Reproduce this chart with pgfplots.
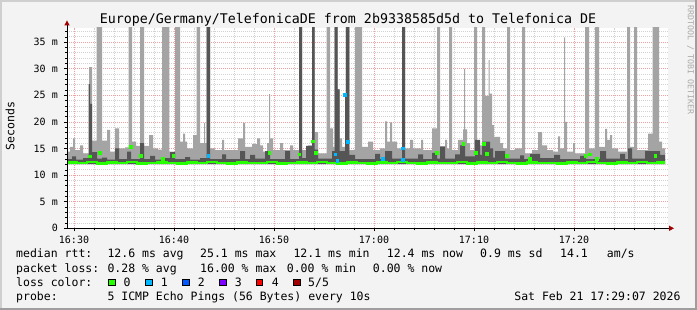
\documentclass[border=0pt]{standalone}
\usepackage{pgfplots}
\pgfplotsset{compat=1.18}
\usepackage{fontspec}
\setmainfont{DejaVu Sans Mono}
\definecolor{bgc}{HTML}{F3F3F3}
\definecolor{shadea}{HTML}{CFCFCF}
\definecolor{shadeb}{HTML}{9E9E9E}
\definecolor{smokeL}{HTML}{A4A4A4}
\definecolor{smokeD}{HTML}{555555}
\definecolor{lc0}{HTML}{26FF00}
\definecolor{lc1}{HTML}{00B8FF}
\definecolor{lc2}{HTML}{0059FF}
\definecolor{lc3}{HTML}{7E00FF}
\definecolor{lc4}{HTML}{FF0000}
\definecolor{lc5}{HTML}{A00000}
\definecolor{mgrid}{HTML}{F0A0A0}
\definecolor{ngrid}{HTML}{D2D2D2}
\definecolor{arrowc}{HTML}{A00000}
\definecolor{wm}{HTML}{AAAAAA}
\newcommand{\lgf}{\fontsize{11.5bp}{13bp}\selectfont}
\begin{document}
\begin{tikzpicture}
\fill[bgc] (0bp,0bp) rectangle (697bp,310bp);
\fill[shadea] (0bp,0bp) rectangle (2bp,310bp);
\fill[shadea] (0bp,308bp) rectangle (697bp,310bp);
\fill[shadeb] (695bp,0bp) rectangle (697bp,310bp);
\fill[shadeb] (0bp,0bp) rectangle (697bp,2bp);
\begin{axis}[
  at={(67bp,81.7bp)}, anchor=south west, scale only axis,
  width=601bp, height=200.3bp,
  xmin=-0.7, xmax=59.4, ymin=0, ymax=37.65,
  axis background/.style={fill=white},
  axis line style={draw=none},
  xtick={0,10,20,30,40,50},
  xticklabels={16:30,16:40,16:50,17:00,17:10,17:20},
  ytick={0,5,10,15,20,25,30,35},
  yticklabels={0,5 m,10 m,15 m,20 m,25 m,30 m,35 m},
  minor xtick={2,4,6,8,12,14,16,18,22,24,26,28,32,34,36,38,42,44,46,48,52,54,56,58},
  minor ytick={1,2,3,4,6,7,8,9,11,12,13,14,16,17,18,19,21,22,23,24,26,27,28,29,31,32,33,34,36,37},
  tick pos=left, tick align=outside,
  major tick length=3bp, minor tick length=2bp,
  tick style={black, line width=0.5bp},
  grid=both,
  major grid style={draw=mgrid, dash pattern=on 1bp off 1bp, line width=0.7bp},
  minor grid style={draw=ngrid, dash pattern=on 1bp off 1bp, line width=0.7bp},
  tick label style={font=\fontsize{10bp}{12bp}\selectfont},
  xticklabel style={anchor=base, inner sep=0pt, yshift=-12.4bp},
  yticklabel style={anchor=east, inner sep=0pt, xshift=-6bp},
]
% outer smoke (light)
\addplot[const plot, fill=smokeL, draw=none] table {
x y
-0.70 12.0
-0.70 14.4
-0.40 15.3
-0.10 16.9
0.10 14.7
0.60 15.6
0.90 14.1
1.50 30.3
1.80 16.5
2.27 40
2.80 16.5
3.30 18.5
3.60 14.4
4.10 18.8
4.50 15.0
5.10 15.2
5.47 40
5.80 16.3
6.20 15.5
6.60 40
7.00 15.5
7.50 17.5
7.90 15.0
8.40 14.8
8.80 40
9.53 14.4
10.10 40
10.60 16.3
10.90 17.8
11.10 16.3
11.30 15.0
11.90 17.5
12.27 40
12.60 16.0
13.00 19.8
13.10 16.0
13.27 40
13.60 15.0
14.10 14.7
14.80 16.6
15.00 14.7
16.40 16.9
16.90 19.8
17.10 15.3
17.80 15.8
18.30 16.9
18.60 15.6
18.90 14.4
19.30 16.0
19.50 25.2
19.60 16.9
19.90 14.7
20.60 16.0
20.90 14.7
21.60 15.6
21.90 14.7
22.50 40
22.80 14.7
23.40 15.6
23.80 40
24.07 18.1
24.40 14.1
25.27 40
25.60 18.8
25.90 15.3
26.07 40
26.35 26.1
26.55 16.9
26.80 15.3
27.15 40
27.53 14.7
28.10 40
28.80 15.3
29.40 16.3
29.90 14.7
30.60 15.0
31.10 20.1
31.30 16.3
31.60 19.9
31.80 16.3
32.30 15.0
32.80 40
33.10 15.0
33.60 16.6
33.90 15.0
34.70 16.6
34.90 14.7
35.80 18.8
36.30 40
36.60 15.0
37.10 16.6
37.30 15.0
37.50 40
37.80 14.7
38.40 16.6
38.90 18.6
39.00 30.0
39.10 18.6
39.30 16.0
39.60 14.7
40.00 40
40.30 15.6
40.80 40
41.10 24.9
41.47 31.6
41.57 25.3
41.80 19.4
42.00 17.2
42.60 16.0
42.90 15.0
43.30 40
43.60 14.7
44.10 15.0
44.80 40
45.10 14.1
45.80 14.7
46.40 18.1
46.80 15.6
47.30 14.7
47.90 14.4
48.40 17.3
48.60 15.0
49.00 35.9
49.10 20.0
49.30 14.4
49.90 16.0
50.10 14.1
51.10 40
51.50 15.0
52.10 40
52.50 15.3
53.10 18.7
53.30 16.6
53.60 17.5
53.80 15.0
54.40 14.4
55.30 40
55.60 15.3
56.00 40
56.30 14.7
57.40 17.8
57.85 40
58.50 16.3
58.80 15.0
59.10 12.0
};
% inner smoke (dark)
\addplot[const plot, fill=smokeD, draw=none] table {
x y
-0.70 12.1
-0.70 13.0
-0.20 13.5
0.20 12.9
0.90 13.2
1.47 27.1
1.60 23.4
1.80 14.3
2.30 13.1
2.80 13.3
3.30 12.9
4.10 15.0
4.50 13.0
5.30 14.4
5.70 13.0
6.60 16.0
7.00 13.0
7.60 13.6
8.10 12.9
9.10 13.2
9.60 14.3
10.10 13.0
11.10 13.4
11.60 12.9
12.60 13.2
13.27 40
13.60 13.0
14.80 13.9
15.20 13.0
16.60 14.5
17.10 13.0
17.60 13.8
18.10 13.1
19.10 14.5
19.60 13.0
21.10 14.5
21.60 13.0
22.50 40
22.80 13.2
23.20 15.5
23.80 40
24.07 14.8
24.40 13.1
25.80 14.5
26.07 40
26.35 26.1
26.55 14.5
27.10 25.0
27.20 40
27.53 13.8
28.10 13.0
30.10 14.0
30.60 13.0
31.10 14.5
31.80 13.1
32.80 40
33.10 13.1
34.40 13.9
34.90 13.0
35.80 14.2
36.30 13.1
36.60 15.4
37.10 13.1
38.10 13.9
38.60 15.6
39.10 13.5
40.10 16.6
40.60 13.8
40.80 16.3
41.60 15.0
41.90 13.3
42.10 14.5
43.10 13.1
44.60 13.7
45.00 13.0
45.60 14.0
46.60 13.2
48.00 13.8
48.60 13.0
50.60 13.6
51.20 13.0
52.60 14.5
53.20 13.1
54.60 14.0
55.10 13.0
55.40 15.0
55.80 13.1
57.10 14.5
58.60 13.8
59.10 12.1
};
% median line
\addplot[const plot, draw=lc0, line width=2.4bp] table {
x y
-0.7 12.4
0.3 12.3
1.3 12.5
2.3 12.2
3.3 12.4
4.3 12.3
5.3 12.5
6.3 12.2
7.3 12.3
8.3 12.4
9.3 12.3
10.3 12.2
11.3 12.4
12.3 12.3
13.3 12.5
14.3 12.3
15.3 12.2
16.3 12.4
17.3 12.3
18.3 12.3
19.3 12.5
20.3 12.2
21.3 12.3
22.3 12.4
23.3 12.3
24.3 12.5
25.3 12.3
26.3 12.2
27.3 12.4
28.3 12.3
29.3 12.2
30.3 12.4
31.3 12.3
32.3 12.5
33.3 12.3
34.3 12.2
35.3 12.4
36.3 12.3
37.3 12.3
38.3 12.5
39.3 12.2
40.3 12.4
41.3 12.3
42.3 12.5
43.3 12.3
44.3 12.2
45.3 12.4
46.3 12.3
47.3 12.3
48.3 12.2
49.3 12.4
50.3 12.3
51.3 12.5
52.3 12.3
53.3 12.2
54.3 12.4
55.3 12.3
56.3 12.5
57.3 12.3
58.3 12.4
59.1 12.4
};
% raised median points, 0 loss
\addplot[color=lc0, only marks, mark=square*, mark size=1.3bp, mark options={solid, draw=lc0, fill=lc0, line width=0pt}] table {
x y
1.60 13.5
2.60 14.2
5.67 15.3
6.67 13.6
8.87 13.0
9.93 13.6
19.53 14.1
22.53 13.9
23.87 16.3
24.20 14.1
36.27 14.2
38.93 15.8
40.20 14.2
41.00 15.8
41.27 14.0
43.27 13.6
45.60 13.0
51.13 13.6
51.60 13.9
52.27 13.0
58.13 13.6
};
% raised median points, 1 loss
\addplot[color=lc1, only marks, mark=square*, mark size=1.3bp, mark options={solid, draw=lc1, fill=lc1, line width=0pt}] table {
x y
13.43 13.6
26.13 13.9
26.33 12.7
27.40 16.2
27.10 25.0
30.87 13.0
32.87 15.0
32.90 12.8
};
\end{axis}
% axis lines and arrows
\draw[black, line width=1bp] (67bp,81.7bp) -- (67bp,285bp);
\draw[black, line width=1bp] (66.5bp,81.7bp) -- (669bp,81.7bp);
\fill[arrowc] (64.3bp,284.5bp) -- (69.7bp,284.5bp) -- (67bp,289.5bp) -- cycle;
\fill[arrowc] (669bp,84.4bp) -- (669bp,79.0bp) -- (674bp,81.7bp) -- cycle;
% title and labels
\node[anchor=base, inner sep=0pt, font=\fontsize{13.3bp}{15bp}\selectfont] at (348bp,286bp) {Europe/Germany/TelefonicaDE from 2b9338585d5d to Telefonica DE};
\node[rotate=90, inner sep=0pt, font=\lgf] at (10bp,184bp) {Seconds};
\node[rotate=-90, inner sep=0pt, text=wm, font=\fontsize{8.3bp}{10bp}\selectfont] at (690.5bp,250bp) {RRDTOOL / TOBI OETIKER};
% legend
\begin{scope}[every node/.style={anchor=base west, inner sep=0pt, font=\lgf}]
\node at (16bp,52bp) {median rtt:};
\node at (107.3bp,52bp) {12.6 ms avg};
\node at (200bp,52bp) {25.1 ms max};
\node at (293.3bp,52bp) {12.1 ms min};
\node at (386.7bp,52bp) {12.4 ms now};
\node at (480bp,52bp) {0.9 ms sd};
\node at (560bp,52bp) {14.1};
\node at (606.7bp,52bp) {am/s};
\node at (16bp,38bp) {packet loss:};
\node at (107.3bp,38bp) {0.28 \% avg};
\node at (200bp,38bp) {16.00 \% max};
\node at (286.7bp,38bp) {0.00 \% min};
\node at (372.7bp,38bp) {0.00 \% now};
\node at (16bp,24bp) {loss color:};
\node at (123.3bp,24bp) {0};
\node at (160.7bp,24bp) {1};
\node at (197.7bp,24bp) {2};
\node at (234.7bp,24bp) {3};
\node at (271.7bp,24bp) {4};
\node at (308bp,24bp) {5/5};
\node at (16bp,10bp) {probe:};
\node at (107.3bp,10bp) {5 ICMP Echo Pings (56 Bytes) every 10s};
\node[anchor=base east] at (680.7bp,10bp) {Sat Feb 21 17:29:07 2026};
\end{scope}
\foreach \xx/\cc in {108.7/lc0,145.7/lc1,182.7/lc2,219.3/lc3,256/lc4,293.3/lc5}{
  \filldraw[fill=\cc, draw=black, line width=0.6bp] (\xx bp,24.3bp) rectangle ++(6.7bp,6.7bp);
}
\end{tikzpicture}
\end{document}
